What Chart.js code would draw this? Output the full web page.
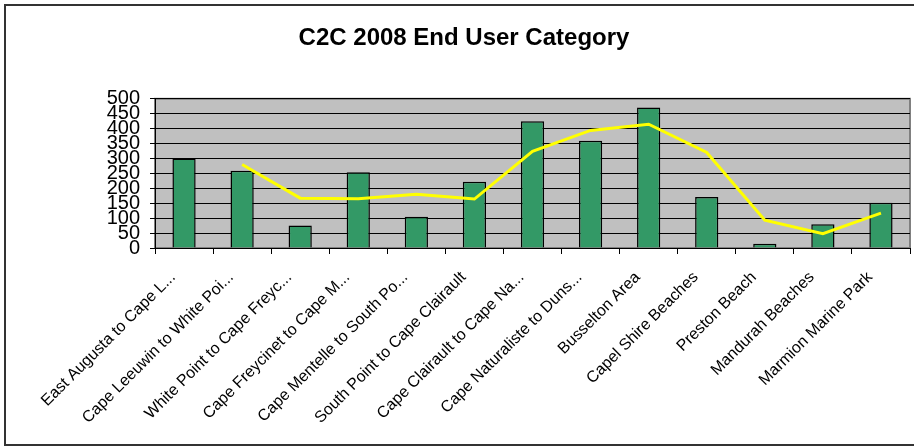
<!DOCTYPE html>
<html lang="en">
<head>
    <meta charset="UTF-8">
    <title>C2C 2008 End User Category</title>
    <script src="https://cdn.jsdelivr.net/npm/chart.js"></script>
    <style>
        html, body { margin: 0; padding: 0; background: #fff; overflow: hidden; }
        #wrap { width: 914px; height: 446px; position: relative; }
    </style>
</head>
<body>
    <div id="wrap">
        <canvas id="endUserChart" width="914" height="446"></canvas>
    </div>

    <script>
        // Chart data
        const categories = [
            'East Augusta to Cape L...',
            'Cape Leeuwin to White Poi...',
            'White Point to Cape Freyc...',
            'Cape Freycinet to Cape M...',
            'Cape Mentelle to South Po...',
            'South Point to Cape Clairault',
            'Cape Clairault to Cape Na...',
            'Cape Naturaliste to Duns...',
            'Busselton Area',
            'Capel Shire Beaches',
            'Preston Beach',
            'Mandurah Beaches',
            'Marmion Marine Park'
        ];
        const userCounts = [300, 259, 75, 254, 105, 222, 425, 359, 471, 171, 14, 80, 152];
        const trendValues = [null, 280, 167, 165, 180, 164, 324, 394, 415, 320, 93, 48, 117];
        const yTicks = [0, 50, 100, 150, 200, 250, 300, 350, 400, 450, 500];

        const FONT = '"Liberation Sans", Arial, sans-serif';

        // Grey plot background and the outer frame
        const plotBackground = {
            id: 'plotBackground',
            beforeDraw(chart) {
                const { ctx, chartArea: a } = chart;
                ctx.save();
                ctx.strokeStyle = '#333';
                ctx.lineWidth = 2;
                ctx.strokeRect(5, 5, 930, 440);
                ctx.fillStyle = '#c0c0c0';
                ctx.fillRect(a.left, a.top, a.right - a.left, a.bottom - a.top);
                ctx.strokeStyle = '#808080';
                ctx.lineWidth = 2;
                ctx.strokeRect(a.left, a.top, a.right - a.left, a.bottom - a.top);
                ctx.restore();
            }
        };

        const ctx = document.getElementById('endUserChart').getContext('2d');
        new Chart(ctx, {
            data: {
                labels: categories,
                datasets: [
                    {
                        type: 'line',
                        label: 'Trend',
                        data: trendValues,
                        borderColor: '#ffff00',
                        borderWidth: 3,
                        pointRadius: 0,
                        tension: 0,
                        order: 0
                    },
                    {
                        type: 'bar',
                        label: 'End Users',
                        data: userCounts,
                        backgroundColor: '#339966',
                        borderColor: '#000000',
                        borderWidth: 1.5,
                        barPercentage: 0.4,
                        categoryPercentage: 1,
                        order: 1
                    }
                ]
            },
            options: {
                responsive: false,
                animation: false,
                layout: {
                    autoPadding: false,
                    padding: { left: 18, right: 4, top: 0, bottom: 0 }
                },
                plugins: {
                    legend: { display: false },
                    tooltip: { enabled: false },
                    title: {
                        display: true,
                        text: 'C2C 2008 End User Category',
                        color: '#000',
                        font: { family: FONT, size: 24, weight: 'bold' },
                        padding: { top: 24, bottom: 46 }
                    }
                },
                scales: {
                    x: {
                        afterFit(scale) { scale.height = 198; },
                        grid: {
                            offset: true,
                            drawOnChartArea: false,
                            color: '#000',
                            tickLength: 6
                        },
                        border: { color: '#000', width: 1 },
                        ticks: {
                            autoSkip: false,
                            maxRotation: 45,
                            minRotation: 45,
                            padding: 14,
                            labelOffset: -11,
                            color: '#000',
                            font: { family: FONT, size: 16 }
                        }
                    },
                    y: {
                        min: 0,
                        max: 500,
                        afterFit(scale) { scale.width = 137; },
                        afterBuildTicks(scale) {
                            scale.ticks = yTicks.map(v => ({ value: v }));
                        },
                        grid: {
                            color: '#000',
                            lineWidth: 1,
                            tickLength: 5
                        },
                        border: { color: '#000', width: 1 },
                        ticks: {
                            autoSkip: false,
                            padding: 10,
                            color: '#000',
                            font: { family: FONT, size: 20, lineHeight: 1 }
                        }
                    }
                }
            },
            plugins: [plotBackground]
        });
    </script>
</body>
</html>
